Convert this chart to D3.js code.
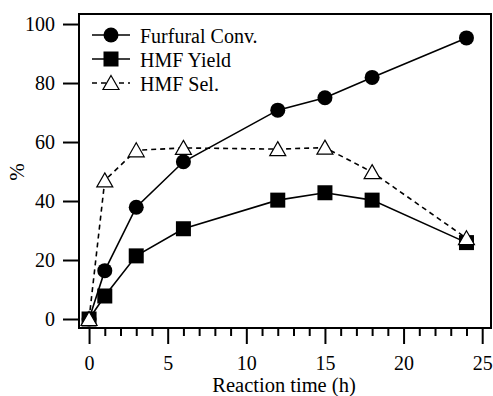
<!DOCTYPE html>
<html>
<head>
<meta charset="utf-8">
<script src="https://cdn.jsdelivr.net/npm/d3@7"></script>
<style>
  #chart text { font-family: "Liberation Serif", "Times New Roman", Times, serif !important; }
</style>
</head>
<body style="margin:0;padding:0;background:#fff">
<svg id="chart" width="493" height="396"></svg>
<script>
const times = [0, 1, 3, 6, 12, 15, 18, 24];
const furfuralConv = [0, 16.4, 37.9, 53.3, 70.8, 75.0, 81.9, 95.3];
const hmfYield = [0, 7.8, 21.4, 30.6, 40.3, 42.8, 40.3, 25.9];
const hmfSel = [0, 47.0, 57.2, 58.0, 57.6, 58.1, 49.8, 27.4];
const seriesNames = ["Furfural Conv.", "HMF Yield", "HMF Sel."];
const xTicks = [0, 5, 10, 15, 20, 25];
const xMinorTicks = d3.range(0, 26, 1);
const yTicks = [0, 20, 40, 60, 80, 100];
const xTitle = "Reaction time (h)";
const yTitle = "%";

const FONT = "Liberation Serif";
const svg = d3.select("#chart").style("font-family", FONT).attr("font-family", FONT);
const L = 79, R = 491, T = 14, B = 328;

const x = d3.scaleLinear().domain([-0.64, 25.56]).range([L, R]);
const y = d3.scaleLinear().domain([-3.05, 103.4]).range([B, T]);

function setFont(sel, size) {
  sel.attr("font-family", FONT).style("font-family", FONT)
     .attr("font-size", size).style("font-size", size + "px").attr("fill", "#000");
}

// frame
svg.append("rect").attr("x", L).attr("y", T).attr("width", R - L).attr("height", B - T)
  .attr("fill", "none").attr("stroke", "#000").attr("stroke-width", 2);

// y axis
const yAxis = svg.append("g").attr("transform", `translate(${L},0)`)
  .call(d3.axisLeft(y).tickValues(yTicks).tickSize(16).tickPadding(8).tickFormat(d3.format("d")));
yAxis.attr("font-family", FONT);
yAxis.select(".domain").remove();
yAxis.selectAll("line").attr("stroke", "#000").attr("stroke-width", 2);
setFont(yAxis.selectAll("text"), 20);

// x axis minor
const xMinor = svg.append("g").attr("transform", `translate(0,${B})`)
  .call(d3.axisBottom(x).tickValues(xMinorTicks.filter(d => d % 5 !== 0)).tickSize(8).tickFormat(""));
xMinor.select(".domain").remove();
xMinor.selectAll("line").attr("stroke", "#000").attr("stroke-width", 2);

// x axis major
const xAxis = svg.append("g").attr("transform", `translate(0,${B})`)
  .call(d3.axisBottom(x).tickValues(xTicks).tickSize(16).tickPadding(12).tickFormat(d3.format("d")));
xAxis.attr("font-family", FONT);
xAxis.select(".domain").remove();
xAxis.selectAll("line").attr("stroke", "#000").attr("stroke-width", 2);
setFont(xAxis.selectAll("text"), 20);

// titles
setFont(svg.append("text").attr("x", 284).attr("y", 391.5).attr("text-anchor", "middle").text(xTitle), 20.5);
setFont(svg.append("text").attr("transform", "translate(24,172) rotate(-90)").attr("text-anchor", "middle").text(yTitle), 21);

// series
const series = [
  { name: seriesNames[0], values: furfuralConv, dash: null, shape: "circle" },
  { name: seriesNames[1], values: hmfYield, dash: null, shape: "square" },
  { name: seriesNames[2], values: hmfSel, dash: "5,4", shape: "triangle" }
];

function drawMarker(g, shape, cx, cy) {
  if (shape === "circle") {
    g.append("circle").attr("cx", cx).attr("cy", cy).attr("r", 7.5).attr("fill", "#000");
  } else if (shape === "square") {
    g.append("rect").attr("x", cx - 7.5).attr("y", cy - 7.5).attr("width", 15).attr("height", 15).attr("fill", "#000");
  } else {
    g.append("path").attr("d", `M${cx},${cy - 7.5}L${cx + 8},${cy + 6.5}L${cx - 8},${cy + 6.5}Z`)
      .attr("fill", "#fff").attr("stroke", "#000").attr("stroke-width", 1.2);
  }
}

const line = d3.line().x(d => x(d[0])).y(d => y(d[1]));
series.forEach(s => {
  const pts = times.map((t, i) => [t, s.values[i]]);
  const g = svg.append("g");
  g.append("path").attr("d", line(pts)).attr("fill", "none").attr("stroke", "#000")
    .attr("stroke-width", 1.6).attr("stroke-dasharray", s.dash);
  pts.forEach(p => drawMarker(g, s.shape, x(p[0]), y(p[1])));
});

// legend
const legendRows = [35, 59, 83];
series.forEach((s, i) => {
  const g = svg.append("g");
  const cy = legendRows[i];
  g.append("line").attr("x1", 92).attr("x2", 130).attr("y1", cy).attr("y2", cy)
    .attr("stroke", "#000").attr("stroke-width", 1.6).attr("stroke-dasharray", s.dash);
  drawMarker(g, s.shape, 111, cy);
  setFont(g.append("text").attr("x", 140).attr("y", cy + 8).text(s.name), 20);
});
</script>
</body>
</html>
